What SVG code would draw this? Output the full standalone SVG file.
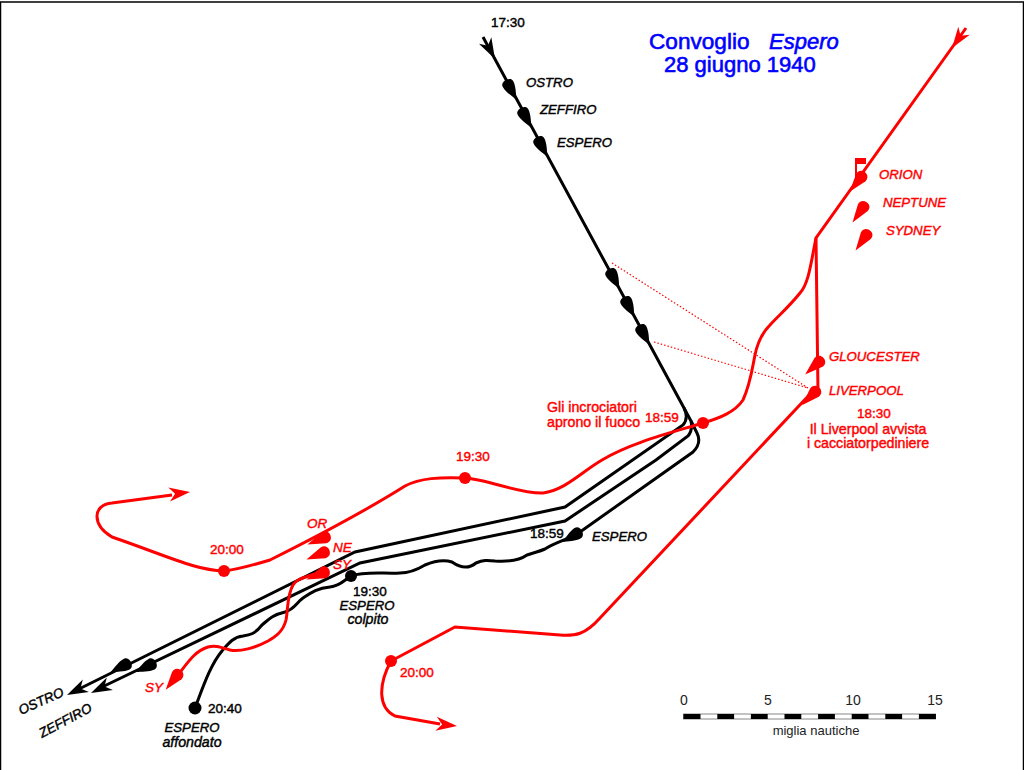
<svg xmlns="http://www.w3.org/2000/svg" width="1024" height="770" viewBox="0 0 1024 770">
<style>
text{font-family:"Liberation Sans",Arial,sans-serif;font-size:13.5px;stroke-width:.42px}
.k{fill:#000;stroke:#000}.r{fill:#f00;stroke:#f00}.i{font-style:italic}.m{text-anchor:middle}
.w{font-size:14.2px}.n{font-size:13.2px}
.bk{fill:none;stroke:#000;stroke-width:3}.rd{fill:none;stroke:#f00;stroke-width:3}
.dot{fill:none;stroke:#f00;stroke-width:1.2;stroke-dasharray:1.5 2}
.t{font-size:22px;fill:#00f;stroke:#00f;stroke-width:.6px}
.s{font-size:13px;fill:#222;stroke:none}
</style>
<defs>
<path id="ship" d="M18,0C13,-2 6,-6 0,-6C-6,-6 -6,6 0,6C6,6 13,2 18,0Z"/>
<path id="rship" d="M20,0L2,-6C-7,-7 -7,7 2,6Z"/>
<path id="head" d="M0,0L-21,-7L-15,0L-21,7Z"/>
</defs>
<rect x="0.5" y="2" width="1023" height="780" fill="#fff" stroke="#000" stroke-width="1.5"/>
<g id="connectors">
<path class="dot" d="M612,263L808,388M654,342L808,388"/>
<path class="bk" d="M483,37L684,408Q689,418 683,425L565,507L355,552L75,691"/>
<path class="bk" d="M684,408L691,421Q693,430 688,436L656,460L565,521L360,563L98,689"/>
<path class="bk" d="M691,421L697,433Q702,443 693,452L580,532C568,540 558,541 545,549C538,552 535,552 527,555C520,560 510,562 495,561C487,560 483,560 476,563C470,568 462,569 452,562C443,559 432,562 425,565C415,571 408,573 400,573C385,574 365,571 351,576C343,581 340,586 330,587C318,588 312,592 303,598C296,603 295,609 285,612C272,615 268,620 262,625C255,634 250,635 243,636C233,637 228,644 222,651C210,665 202,690 195,708"/>
<path class="rd" d="M966,28L816,238L818,392"/>
<path class="rd" d="M816,238C811,262 809,283 800,293C788,308 778,316 770,325C760,335 757,345 755,355C752,370 750,385 743,400C735,412 720,418 703,423C670,433 630,443 602,460C580,473 565,490 543,493C520,494 490,480 465,478C440,477 420,478 405,486C370,508 310,540 270,560C250,566 235,570 224,571C195,570 170,557 112,537C92,525 92,505 112,503L172,495"/>
<path class="rd" d="M812,392L600,618C585,635 575,636 560,635L455,627L391,661C378,685 378,708 395,716L440,724"/>
<path class="rd" d="M320,572C305,578 297,578 293,585C287,595 288,610 286,620C283,632 275,637 268,641C255,648 240,652 230,650C220,647 215,645 208,647C195,651 188,662 178,675"/>
<use href="#head" fill="#000" transform="translate(495,59) rotate(62)"/>
<use href="#head" fill="#000" transform="translate(67,695) rotate(154)"/>
<use href="#head" fill="#000" transform="translate(91,693) rotate(154)"/>
<use href="#head" fill="#f00" transform="translate(952,48) rotate(125)"/>
<use href="#head" fill="#f00" transform="translate(190,492) rotate(-7)"/>
<use href="#head" fill="#f00" transform="translate(457,726) rotate(6)"/>
</g>
<g id="title"><text class="t" x="649" y="49" style="font-size:22.600px">Convoglio</text><text class="t i" x="769" y="49">Espero</text><text class="t" x="664" y="72">28 giugno 1940</text></g>
<g id="black-ships" fill="#000">
<use href="#ship" transform="translate(508,84) rotate(62)"/>
<use href="#ship" transform="translate(523,112) rotate(62)"/>
<use href="#ship" transform="translate(539,141) rotate(62)"/>
<use href="#ship" transform="translate(611,273) rotate(62)"/>
<use href="#ship" transform="translate(626,301) rotate(62)"/>
<use href="#ship" transform="translate(641,329) rotate(62)"/>
<use href="#ship" transform="translate(127,664) rotate(154)"/>
<use href="#ship" transform="translate(152,664) rotate(154)"/>
<use href="#ship" transform="translate(578,533) rotate(150)"/>
</g>
<g id="red-ships" fill="#f00">
<use href="#rship" transform="translate(862,176) rotate(128)"/>
<use href="#rship" transform="translate(864,206) rotate(125)"/>
<use href="#rship" transform="translate(867,234) rotate(125)"/>
<use href="#rship" transform="translate(820,361) rotate(138)"/>
<use href="#rship" transform="translate(816,391) rotate(135)"/>
<use href="#rship" transform="translate(326,537) rotate(158)"/>
<use href="#rship" transform="translate(325,552) rotate(158)"/>
<use href="#rship" transform="translate(325,572) rotate(158)"/>
<use href="#rship" transform="translate(178,674) rotate(128)"/>
<path d="M855,158H866V164H857V180H855Z"/>
</g>
<g id="points">
<circle cx="703" cy="423" r="6" fill="#f00"/><circle cx="465" cy="478" r="6" fill="#f00"/><circle cx="224" cy="571" r="6" fill="#f00"/><circle cx="391" cy="661" r="6" fill="#f00"/>
<circle cx="351" cy="576" r="6" fill="#000"/><circle cx="195" cy="708" r="6.500" fill="#000"/>
</g>
<g id="labels">
<text class="k" x="491" y="27">17:30</text>
<text class="k i n" x="526" y="87">OSTRO</text><text class="k i n" x="540" y="114">ZEFFIRO</text><text class="k i n" x="557" y="147">ESPERO</text>
<text class="r i n" x="879" y="179">ORION</text><text class="r i n" x="883" y="207">NEPTUNE</text><text class="r i n" x="886" y="235">SYDNEY</text>
<text class="r i n" x="829" y="361">GLOUCESTER</text><text class="r i n" x="829" y="395">LIVERPOOL</text>
<text class="r w" x="547" y="412">Gli incrociatori</text><text class="r w" x="547" y="427">aprono il fuoco</text><text class="r" x="645" y="422">18:59</text>
<text class="r m" x="874" y="418">18:30</text><text class="r m w" x="868" y="434">Il Liverpool avvista</text><text class="r m w" x="868" y="448">i cacciatorpediniere</text>
<text class="r" x="456" y="461">19:30</text><text class="r" x="210" y="554">20:00</text><text class="r" x="400" y="677">20:00</text>
<text class="r i" x="307" y="528">OR</text><text class="r i" x="333" y="552">NE</text><text class="r i" x="333" y="569">SY</text><text class="r i" x="145" y="692">SY</text>
<text class="k" x="530" y="538">18:59</text><text class="k i n" x="592" y="541">ESPERO</text>
<text class="k m" x="370" y="596">19:30</text><text class="k i m n" x="367" y="610">ESPERO</text><text class="k i m w" x="368" y="624">colpito</text>
<text class="k" x="208" y="713">20:40</text><text class="k i m n" x="192" y="732">ESPERO</text><text class="k i m w" x="192" y="747">affondato</text>
<text class="k i" transform="translate(21,715) rotate(-24)">OSTRO</text><text class="k i" transform="translate(42,738) rotate(-28)">ZEFFIRO</text>
</g>
<g id="scale">
<rect x="683.500" y="714" width="252" height="5" fill="#fff" stroke="#888"/>
<path stroke="#000" stroke-width="5" d="M683.500,716.500h17m16.800,0h16.800m16.800,0h16.800m16.800,0h16.800m16.800,0h16.800m16.800,0h16.800m16.800,0h16.800m16.800,0h17"/>
<text class="s m" x="684" y="705" style="font-size:14px">0</text><text class="s m" x="768" y="705" style="font-size:14px">5</text><text class="s m" x="853" y="705" style="font-size:14px">10</text><text class="s m" x="935" y="705" style="font-size:14px">15</text><text class="s m" x="816" y="735">miglia nautiche</text>
</g>
</svg>
